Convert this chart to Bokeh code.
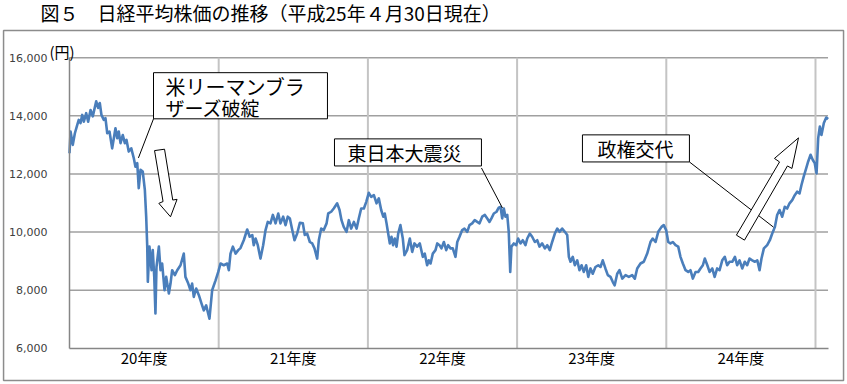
from bokeh.plotting import figure
from bokeh.models import Range1d, FixedTicker, Label, NumeralTickFormatter
from bokeh.embed import file_html
from bokeh.resources import INLINE

# ---- data: position in fiscal years since April 2008 (0 = start of FY20), Nikkei average (yen)
position = [
    0.000, 0.007, 0.022, 0.036, 0.052, 0.062, 0.074, 0.085, 0.096, 0.112, 0.125, 0.141, 0.156, 0.179,
    0.192, 0.203, 0.214, 0.230, 0.241, 0.253, 0.268, 0.286, 0.308, 0.320, 0.330, 0.342, 0.357, 0.371,
    0.382, 0.397, 0.414, 0.431, 0.442, 0.454, 0.464, 0.476, 0.491, 0.505, 0.514, 0.521, 0.525, 0.536,
    0.550, 0.558, 0.568, 0.576, 0.583, 0.599, 0.610, 0.621, 0.637, 0.648, 0.666, 0.677, 0.688, 0.706,
    0.722, 0.744, 0.766, 0.777, 0.796, 0.811, 0.822, 0.833, 0.849, 0.867, 0.885, 0.900, 0.916, 0.938,
    0.956, 0.979, 0.997,
    1.012, 1.034, 1.057, 1.068, 1.079, 1.095, 1.113, 1.131, 1.146, 1.168, 1.191, 1.208, 1.225, 1.235,
    1.247, 1.262, 1.280, 1.298, 1.314, 1.329, 1.347, 1.363, 1.381, 1.399, 1.414, 1.432, 1.448, 1.463,
    1.477, 1.493, 1.508, 1.526, 1.544, 1.564, 1.577, 1.593, 1.611, 1.627, 1.642, 1.660, 1.671, 1.687,
    1.704, 1.723, 1.734, 1.754, 1.771, 1.794, 1.810, 1.823, 1.838, 1.857, 1.872, 1.888, 1.906, 1.924,
    1.939, 1.955, 1.973, 1.989,
    2.006, 2.022, 2.040, 2.058, 2.073, 2.089, 2.103, 2.113, 2.125, 2.136, 2.147, 2.158, 2.169, 2.180,
    2.192, 2.203, 2.218, 2.234, 2.245, 2.263, 2.281, 2.297, 2.312, 2.330, 2.348, 2.368, 2.381, 2.397,
    2.408, 2.420, 2.435, 2.453, 2.465, 2.480, 2.493, 2.509, 2.525, 2.538, 2.554, 2.569, 2.587, 2.599,
    2.614, 2.632, 2.647, 2.666, 2.681, 2.699, 2.716, 2.733, 2.748, 2.766, 2.784, 2.800, 2.815, 2.828,
    2.844, 2.862, 2.877, 2.889, 2.900, 2.911, 2.922, 2.934, 2.944, 2.954, 2.962, 2.978, 2.994,
    3.007, 3.023, 3.038, 3.056, 3.068, 3.085, 3.101, 3.119, 3.135, 3.150, 3.168, 3.186, 3.202, 3.219,
    3.235, 3.253, 3.269, 3.284, 3.302, 3.320, 3.336, 3.347, 3.358, 3.373, 3.387, 3.403, 3.418, 3.432,
    3.447, 3.463, 3.477, 3.492, 3.507, 3.525, 3.544, 3.559, 3.574, 3.592, 3.608, 3.626, 3.641, 3.654,
    3.671, 3.686, 3.705, 3.727, 3.749, 3.771, 3.789, 3.805, 3.827, 3.849, 3.872, 3.894, 3.909, 3.928,
    3.946, 3.968, 3.983,
    3.999, 4.013, 4.028, 4.044, 4.062, 4.080, 4.095, 4.111, 4.129, 4.147, 4.162, 4.178, 4.196, 4.214,
    4.229, 4.245, 4.258, 4.275, 4.290, 4.308, 4.324, 4.341, 4.357, 4.375, 4.392, 4.408, 4.424, 4.442,
    4.460, 4.475, 4.491, 4.509, 4.526, 4.542, 4.558, 4.576, 4.594, 4.610, 4.625, 4.638, 4.654, 4.676,
    4.694, 4.710, 4.728, 4.743, 4.759, 4.777, 4.794, 4.810, 4.826, 4.844, 4.861, 4.877, 4.893, 4.906,
    4.921, 4.938, 4.951, 4.967, 4.982, 4.995, 5.007, 5.018, 5.029, 5.040, 5.056, 5.072, 5.085,
]
nikkei = [
    12710, 13460, 13000, 13400, 13690, 13860, 13750, 14030, 13800, 14090, 13800, 14200, 13980, 14500,
    14270, 14440, 14030, 13860, 13920, 13400, 13460, 12880, 13570, 13230, 13460, 13060, 13340, 13060,
    13170, 12770, 12880, 12540, 12250, 12370, 11510, 12140, 12080, 11450, 10530, 9500, 8290, 9500,
    8690, 9380, 8460, 7200, 8800, 9500, 8690, 8920, 8000, 8460, 7890, 8230, 8690, 8520,
    8690, 8860, 9260, 8460, 8230, 8000, 8230, 7770, 8060, 7830, 7540, 7310, 7480, 7020,
    8000, 8340, 8630,
    8920, 8860, 8920, 8690, 9260, 9500, 9260, 9380, 9450, 9720, 10090, 9840, 9900, 9550,
    9780, 9550, 9090, 9550, 10070, 10350, 10300, 10590, 10300, 10640, 10300, 10530, 10240, 10530,
    10470, 10070, 9720, 9950, 10320, 10300, 9900, 9950, 9660, 9610, 9440, 9090, 9720, 10120,
    10070, 10300, 10640, 10700, 10810, 10990, 10760, 10410, 10180, 10010, 10410, 10120, 10350, 10120,
    10470, 10810, 10810, 11040,
    11350, 11210, 11270, 10990, 11160, 10760, 10530, 10640, 10300, 9950, 9610, 9840, 9550, 9780,
    9500, 9950, 10240, 9780, 9210, 9380, 9780, 9320, 9610, 9500, 9610, 9150, 9260, 8860,
    9030, 8920, 9260, 9380, 9610, 9550, 9440, 9660, 9380, 9550, 9440, 9440, 9150, 9660,
    9840, 10070, 10120, 10010, 10240, 10300, 10410, 10350, 10300, 10530, 10590, 10470, 10350, 10470,
    10640, 10700, 10840, 10870, 10470, 10810, 10530, 10590, 10010, 8630, 9500, 9610, 9550,
    9780, 9610, 9720, 9550, 9780, 9950, 9840, 9660, 9720, 9500, 9610, 9440, 9550, 9380,
    9660, 9950, 10120, 10010, 10120, 10010, 9900, 9150, 8980, 9150, 8860, 9030, 8690, 8860,
    8630, 8860, 8460, 8750, 8570, 8800, 8860, 8800, 9030, 8750, 8520, 8460, 8290, 8170,
    8570, 8690, 8400, 8520, 8460, 8520, 8400, 8750, 8920, 8980, 9260, 9660, 9780, 9660,
    10010, 10180, 10240,
    10070, 9660, 9610, 9660, 9550, 9500, 9150, 8920, 8690, 8630, 8690, 8400, 8630, 8630,
    8750, 8860, 9090, 8860, 8630, 8750, 8460, 8750, 8690, 9030, 9150, 8860, 8980, 8980,
    9150, 8860, 9030, 8750, 8980, 8860, 9090, 9030, 8980, 9030, 8690, 9090, 9440, 9550,
    9720, 9950, 10180, 10590, 10760, 10530, 10870, 10810, 10990, 11100, 11270, 11390, 11330, 11620,
    11910, 12200, 12430, 12660, 12480, 12370, 12020, 13230, 13630, 13340, 13750, 13940, 13890,
]

year_centers = [0.5, 1.5, 2.5, 3.5, 4.5]
year_labels = ["20年度", "21年度", "22年度", "23年度", "24年度"]
year_bounds = [1, 2, 3, 4, 5]
yen_ticks = [6000, 8000, 10000, 12000, 14000, 16000]

title_text = "図５　日経平均株価の推移（平成25年４月30日現在）"
unit_text = "(円)"

# ---- layout geometry (data coordinates)
X_START, X_END = 0.0, 5.084          # plotted time span
VIEW_X = (-0.4625, 5.2145)            # whole canvas, horizontally
VIEW_Y = (4758.6, 17965.5)            # whole canvas, vertically
outer_box = dict(left=-0.442, right=5.188, top=16931, bottom=4897)
title_pos = (-0.194, 17552)
unit_pos = (-0.050, 16207)

lehman_box = dict(left=0.563, right=1.729, top=15483, bottom=13896)
lehman_lines = [("米リーマンブラ", 0.643, 15017, "20px"), ("ザーズ破綻", 0.643, 14293, "19px")]
lehman_leader = (0.563, 13896, 0.462, 12551)
down_arrow_x = [0.570, 0.637, 0.692, 0.721, 0.677, 0.599, 0.627]
down_arrow_y = [12803, 12851, 11103, 11127, 10527, 10989, 11051]

quake_box = dict(left=1.776, right=2.761, top=13206, bottom=12275)
quake_text = ("東日本大震災", 1.863, 12741, "19px")
quake_leader = (2.761, 12206, 2.902, 10827)

govt_box = dict(left=3.438, right=4.155, top=13344, bottom=12413)
govt_text = ("政権交代", 3.539, 12879, "19px")
govt_leader = (4.155, 12413, 4.718, 10172)
up_arrow_x = [4.470, 4.759, 4.725, 4.886, 4.842, 4.812, 4.524]
up_arrow_y = [9896, 12413, 12534, 13241, 12189, 12275, 9724]

JP = "Noto Sans CJK JP"

p = figure(width=847, height=384, output_backend="svg", toolbar_location=None,
           x_range=Range1d(*VIEW_X), y_range=Range1d(*VIEW_Y),
           min_border_left=0, min_border_right=0, min_border_top=0, min_border_bottom=0)
p.title.visible = False
p.outline_line_color = None
p.background_fill_color = "white"
p.border_fill_color = "white"
p.xgrid.visible = False
p.ygrid.visible = False

# axes fixed inside the canvas
p.xaxis.fixed_location = yen_ticks[0]
p.xaxis.bounds = (X_START, X_END)
p.xaxis.ticker = FixedTicker(ticks=year_centers)
p.xaxis.major_label_overrides = {c: l for c, l in zip(year_centers, year_labels)}
p.xaxis.major_tick_line_color = None
p.xaxis.minor_tick_line_color = None
p.xaxis.axis_line_color = "#868686"
p.xaxis.axis_line_width = 1.5
p.xaxis.major_label_text_font = JP
p.xaxis.major_label_text_font_size = "15px"
p.xaxis.major_label_text_color = "black"
p.xaxis.major_label_standoff = -7

p.yaxis.fixed_location = X_START
p.yaxis.bounds = (yen_ticks[0], yen_ticks[-1])
p.yaxis.ticker = FixedTicker(ticks=yen_ticks)
p.yaxis.formatter = NumeralTickFormatter(format="0,0")
p.yaxis.major_tick_line_color = None
p.yaxis.minor_tick_line_color = None
p.yaxis.axis_line_color = "#868686"
p.yaxis.axis_line_width = 1.5
p.yaxis.major_label_text_font = "DejaVu Sans"
p.yaxis.major_label_text_font_size = "11px"
p.yaxis.major_label_text_color = "#404040"
p.yaxis.major_label_standoff = 16

# outer chart border
p.quad(left=[outer_box["left"]], right=[outer_box["right"]], top=[outer_box["top"]],
       bottom=[outer_box["bottom"]], fill_color=None, line_color="#8c8c8c", line_width=1.5)

# grid lines within the plot area
hy = yen_ticks[1:]
p.segment(x0=[X_START] * len(hy), y0=hy, x1=[X_END] * len(hy), y1=hy,
          line_color="#a0a0a0", line_width=1.5)
p.segment(x0=year_bounds, y0=[yen_ticks[0]] * len(year_bounds), x1=year_bounds,
          y1=[yen_ticks[-1]] * len(year_bounds), line_color="#c4c4c4", line_width=2)

# data line
p.line(position, nikkei, line_color="#4a7ebb", line_width=2.6, line_join="round")

# leader lines
for (x0, y0, x1, y1) in [lehman_leader, quake_leader, govt_leader]:
    p.segment(x0=[x0], y0=[y0], x1=[x1], y1=[y1], line_color="black", line_width=1)

# callout boxes
for b in [lehman_box, quake_box, govt_box]:
    p.quad(left=[b["left"]], right=[b["right"]], top=[b["top"]], bottom=[b["bottom"]],
           fill_color="white", line_color="black", line_width=1)

# arrows
p.patch(down_arrow_x, down_arrow_y, fill_color="white", line_color="black", line_width=1)
p.patch(up_arrow_x, up_arrow_y, fill_color="white", line_color="black", line_width=1)

# callout texts
for (t, x, y, fs) in lehman_lines + [quake_text, govt_text]:
    p.add_layout(Label(x=x, y=y, text=t, text_font=JP, text_font_size=fs,
                       text_baseline="middle", text_align="left", text_color="black"))

# title and unit label
p.add_layout(Label(x=title_pos[0], y=title_pos[1], text=title_text, text_font=JP,
                   text_font_size="19px", text_baseline="middle", text_align="left",
                   text_color="black"))
p.add_layout(Label(x=unit_pos[0], y=unit_pos[1], text=unit_text, text_font=JP,
                   text_font_size="15px", text_baseline="middle", text_align="center",
                   text_color="black"))

open("out.html", "w").write(file_html(p, INLINE))
